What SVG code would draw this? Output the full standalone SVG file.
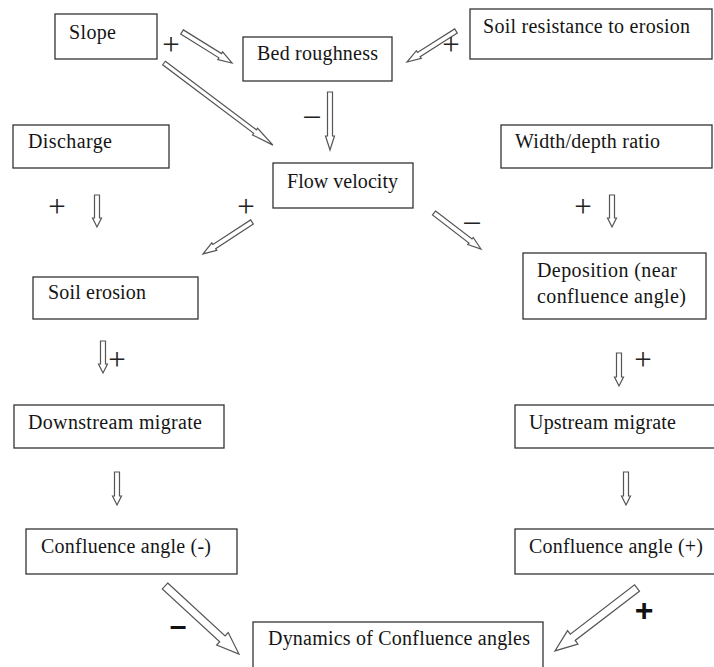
<svg xmlns="http://www.w3.org/2000/svg" width="714" height="667" viewBox="0 0 714 667">
<style>
.box{fill:#fff;stroke:#333;stroke-width:1.3}
.t{font-family:"Liberation Serif","Times New Roman",serif;font-size:20px;fill:#151515}
.s{font-family:"Liberation Serif","Times New Roman",serif;fill:#222;text-anchor:middle;font-size:31px}
.b{font-family:"Liberation Sans",Arial,sans-serif;fill:#111;text-anchor:middle;font-weight:bold}
.a{fill:#fff;stroke:#555;stroke-width:1.2;stroke-linejoin:miter}
</style>
<rect width="714" height="667" fill="#fff"/>
<g id="slope"><rect class="box" x="55" y="14" width="102" height="45"/><text class="t" x="69" y="39" textLength="47">Slope</text></g>
<g id="bed-roughness"><rect class="box" x="243" y="37" width="149" height="44"/><text class="t" x="257" y="60" textLength="121">Bed roughness</text></g>
<g id="soil-resistance"><rect class="box" x="470" y="9" width="242" height="50"/><text class="t" x="483" y="33" textLength="207">Soil resistance to erosion</text></g>
<g id="discharge"><rect class="box" x="13" y="125" width="156" height="43"/><text class="t" x="28" y="148" textLength="84">Discharge</text></g>
<g id="flow-velocity"><rect class="box" x="273" y="163" width="140" height="45"/><text class="t" x="287" y="188" textLength="111">Flow velocity</text></g>
<g id="width-depth"><rect class="box" x="501" y="125" width="211" height="43"/><text class="t" x="515" y="148" textLength="145">Width/depth ratio</text></g>
<g id="soil-erosion"><rect class="box" x="33" y="277" width="165" height="42"/><text class="t" x="48" y="299" textLength="98">Soil erosion</text></g>
<g id="deposition"><rect class="box" x="523" y="253" width="183" height="66"/><text class="t" x="537" y="277" textLength="140">Deposition (near</text><text class="t" x="537" y="303" textLength="149">confluence angle)</text></g>
<g id="downstream"><rect class="box" x="14" y="405" width="210" height="43"/><text class="t" x="28" y="429" textLength="174">Downstream migrate</text></g>
<g id="upstream"><rect class="box" x="515" y="405" width="205" height="43"/><text class="t" x="529" y="429" textLength="147">Upstream migrate</text></g>
<g id="confluence-neg"><rect class="box" x="26" y="529" width="211" height="45"/><text class="t" x="41" y="553" textLength="170">Confluence angle (-)</text></g>
<g id="confluence-pos"><rect class="box" x="515" y="529" width="205" height="45"/><text class="t" x="529" y="553" textLength="174">Confluence angle (+)</text></g>
<g id="dynamics"><rect class="box" x="253" y="622" width="290" height="60"/><text class="t" x="268" y="645" textLength="262">Dynamics of Confluence angles</text></g>
<g id="connectors">
<polygon class="a" transform="translate(182,32) rotate(31.8)" points="0,-2.5 45,-2.5 45,-4.5 58.8,0 45,4.5 45,2.5 0,2.5"/>
<polygon class="a" transform="translate(164,63) rotate(37)" points="0,-2.2 114,-2.2 114,-4.2 136.4,0 114,4.2 114,2.2 0,2.2"/>
<polygon class="a" transform="translate(456,31) rotate(147.7)" points="0,-2.5 44,-2.5 44,-4.5 58,0 44,4.5 44,2.5 0,2.5"/>
<polygon class="a" transform="translate(330,92) rotate(90)" points="0,-2.5 44,-2.5 44,-4.5 58,0 44,4.5 44,2.5 0,2.5"/>
<polygon class="a" transform="translate(97,195) rotate(90)" points="0,-2.5 23,-2.5 23,-4.5 32,0 23,4.5 23,2.5 0,2.5"/>
<polygon class="a" transform="translate(252,222) rotate(146.9)" points="0,-2.5 45,-2.5 45,-4.5 58.5,0 45,4.5 45,2.5 0,2.5"/>
<polygon class="a" transform="translate(434,213) rotate(37.5)" points="0,-2.5 46,-2.5 46,-4.5 59.2,0 46,4.5 46,2.5 0,2.5"/>
<polygon class="a" transform="translate(612,195) rotate(90)" points="0,-2.5 23,-2.5 23,-4.5 32,0 23,4.5 23,2.5 0,2.5"/>
<polygon class="a" transform="translate(103,341) rotate(90)" points="0,-2.5 23,-2.5 23,-4.5 32,0 23,4.5 23,2.5 0,2.5"/>
<polygon class="a" transform="translate(619,353) rotate(90)" points="0,-2.5 24,-2.5 24,-4.5 33,0 24,4.5 24,2.5 0,2.5"/>
<polygon class="a" transform="translate(117,472) rotate(90)" points="0,-2.5 24,-2.5 24,-4.5 33,0 24,4.5 24,2.5 0,2.5"/>
<polygon class="a" transform="translate(626,472) rotate(90)" points="0,-2.5 24,-2.5 24,-4.5 33,0 24,4.5 24,2.5 0,2.5"/>
<polygon class="a" transform="translate(165,586) rotate(42.6)" points="0,-4 78,-4 78,-8.5 100.5,0 78,8.5 78,4 0,4"/>
<polygon class="a" transform="translate(637,588) rotate(142.5)" points="0,-4 81,-4 81,-8.5 103.4,0 81,8.5 81,4 0,4"/>
</g>
<g id="signs">
<text class="s" x="171" y="55">+</text>
<text class="s" x="451" y="55">+</text>
<text class="s" x="312" y="125">–</text>
<text class="s" x="57" y="217">+</text>
<text class="s" x="246" y="217">+</text>
<text class="s" x="472" y="231">–</text>
<text class="s" x="583" y="217">+</text>
<text class="s" x="117" y="370">+</text>
<text class="s" x="643" y="370">+</text>
<text class="b" x="178" y="636" font-size="30">–</text>
<text class="b" x="644" y="621" font-size="32">+</text>
</g>
</svg>
